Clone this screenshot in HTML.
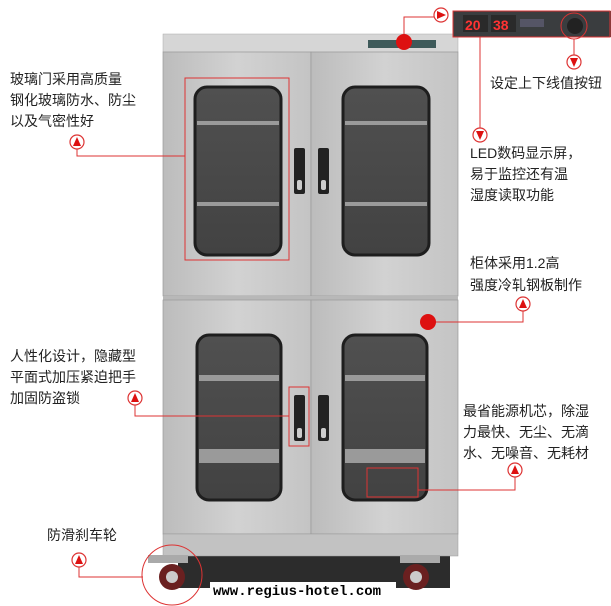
<!DOCTYPE html>
<html><head><meta charset="utf-8"><style>
html,body{margin:0;padding:0;background:#fff;width:611px;height:606px;overflow:hidden}
svg{display:block}
text{font-family:"Liberation Sans","Noto Sans CJK SC",sans-serif;font-size:14px;fill:#222}
</style></head><body>
<svg width="611" height="606" viewBox="0 0 611 606">
<defs>
<linearGradient id="door" x1="0" x2="1"><stop offset="0" stop-color="#bcbcbc"/><stop offset="0.5" stop-color="#d2d2d2"/><stop offset="1" stop-color="#c4c4c4"/></linearGradient>
<linearGradient id="glass" x1="0" y1="0" x2="0" y2="1"><stop offset="0" stop-color="#505050"/><stop offset="1" stop-color="#424242"/></linearGradient>
<g id="au"><circle r="7" fill="#fff" stroke="#d33" stroke-width="1.2"/><path d="M0,-5 L4,4 L-4,4Z" fill="#d11"/></g>
</defs>
<rect x="178" y="550" width="272" height="38" fill="#2c2c2c"/>
<rect x="163" y="34" width="295" height="18" fill="#d6d6d6" stroke="#aaa" stroke-width="0.5"/>
<rect x="368" y="40" width="68" height="8" fill="#3e5a5a"/>
<rect x="163" y="52" width="148" height="244" fill="url(#door)" stroke="#999" stroke-width="0.7"/>
<rect x="311" y="52" width="147" height="244" fill="url(#door)" stroke="#999" stroke-width="0.7"/>
<rect x="163" y="296" width="295" height="4" fill="#b8b8b8"/>
<rect x="163" y="300" width="148" height="234" fill="url(#door)" stroke="#999" stroke-width="0.7"/>
<rect x="311" y="300" width="147" height="234" fill="url(#door)" stroke="#999" stroke-width="0.7"/>
<rect x="163" y="534" width="295" height="22" fill="#c2c2c2" stroke="#999" stroke-width="0.5"/>
<g stroke="#1e1e1e" stroke-width="3" fill="url(#glass)">
<rect x="195" y="87" width="86" height="168" rx="12"/>
<rect x="343" y="87" width="86" height="168" rx="12"/>
<rect x="197" y="335" width="84" height="165" rx="12"/>
<rect x="343" y="335" width="84" height="165" rx="12"/>
</g>
<g fill="#9a9a9a">
<rect x="197" y="121" width="82" height="4"/><rect x="197" y="202" width="82" height="4"/>
<rect x="345" y="121" width="82" height="4"/><rect x="345" y="202" width="82" height="4"/>
<rect x="199" y="375" width="80" height="6"/><rect x="199" y="449" width="80" height="14"/>
<rect x="345" y="375" width="80" height="6"/><rect x="345" y="449" width="80" height="14"/>
</g>
<g fill="#222"><rect x="294" y="148" width="11" height="46" rx="2"/><rect x="318" y="148" width="11" height="46" rx="2"/>
<rect x="294" y="395" width="11" height="46" rx="2"/><rect x="318" y="395" width="11" height="46" rx="2"/></g>
<g fill="#ccc"><rect x="297" y="180" width="5" height="10" rx="2"/><rect x="321" y="180" width="5" height="10" rx="2"/>
<rect x="297" y="428" width="5" height="10" rx="2"/><rect x="321" y="428" width="5" height="10" rx="2"/></g>
<g><rect x="148" y="555" width="40" height="8" fill="#aaa"/><circle cx="172" cy="577" r="13" fill="#6a2020"/><circle cx="172" cy="577" r="6" fill="#ccc"/>
<rect x="400" y="555" width="40" height="8" fill="#aaa"/><circle cx="416" cy="577" r="13" fill="#6a2020"/><circle cx="416" cy="577" r="6" fill="#ccc"/></g>
<rect x="453" y="11" width="158" height="26" fill="#3a3d3f"/>
<rect x="463" y="15" width="25" height="17" fill="#2a2a2a"/><text x="465" y="30" style="font-size:14px;fill:#f33;font-weight:bold">20</text>
<rect x="491" y="15" width="25" height="17" fill="#2a2a2a"/><text x="493" y="30" style="font-size:14px;fill:#f33;font-weight:bold">38</text>
<rect x="520" y="19" width="24" height="8" fill="#556"/>
<circle cx="575" cy="26" r="8" fill="#222"/>
<g stroke="#d33" stroke-width="1" fill="none">
<rect x="453" y="11" width="157" height="26"/>
<circle cx="574" cy="26" r="13"/>
<rect x="185" y="78" width="104" height="182"/>
<rect x="289" y="387" width="20" height="59"/>
<rect x="367" y="468" width="51" height="29"/>
<circle cx="172" cy="575" r="30"/>
<polyline points="404,42 404,17 434,17"/>
<line x1="480" y1="37" x2="480" y2="128"/>
<line x1="574" y1="39" x2="574" y2="55"/>
<polyline points="77,149 77,156 185,156"/>
<polyline points="135,405 135,416 289,416"/>
<polyline points="428,322 523,322 523,311"/>
<polyline points="515,477 515,490 418,490"/>
<polyline points="79,567 79,577 143,577"/>
</g>
<circle cx="404" cy="42" r="8" fill="#d11"/>
<circle cx="428" cy="322" r="8" fill="#d11"/>
<use href="#au" transform="translate(441,15) rotate(90)"/>
<use href="#au" transform="translate(480,135) rotate(180)"/>
<use href="#au" transform="translate(574,62) rotate(180)"/>
<use href="#au" transform="translate(77,142)"/>
<use href="#au" transform="translate(135,398)"/>
<use href="#au" transform="translate(523,304)"/>
<use href="#au" transform="translate(515,470)"/>
<use href="#au" transform="translate(79,560)"/>
<text x="490" y="88">设定上下线值按钮</text>
<text x="470" y="158">LED数码显示屏，</text>
<text x="470" y="179">易于监控还有温</text>
<text x="470" y="200">湿度读取功能</text>
<text x="10" y="84">玻璃门采用高质量</text>
<text x="10" y="105">钢化玻璃防水、防尘</text>
<text x="10" y="126">以及气密性好</text>
<text x="470" y="268">柜体采用1.2高</text>
<text x="470" y="290">强度冷轧钢板制作</text>
<text x="10" y="361">人性化设计，隐藏型</text>
<text x="10" y="382">平面式加压紧迫把手</text>
<text x="10" y="403">加固防盗锁</text>
<text x="463" y="416">最省能源机芯，除湿</text>
<text x="463" y="437">力最快、无尘、无滴</text>
<text x="463" y="458">水、无噪音、无耗材</text>
<text x="47" y="540">防滑刹车轮</text>
<rect x="210" y="582" width="186" height="16" fill="#fff"/>
<text x="213" y="595" style="font-family:'Liberation Mono',monospace;font-size:14px;font-weight:bold;fill:#000">www.regius-hotel.com</text>
</svg>
</body></html>
